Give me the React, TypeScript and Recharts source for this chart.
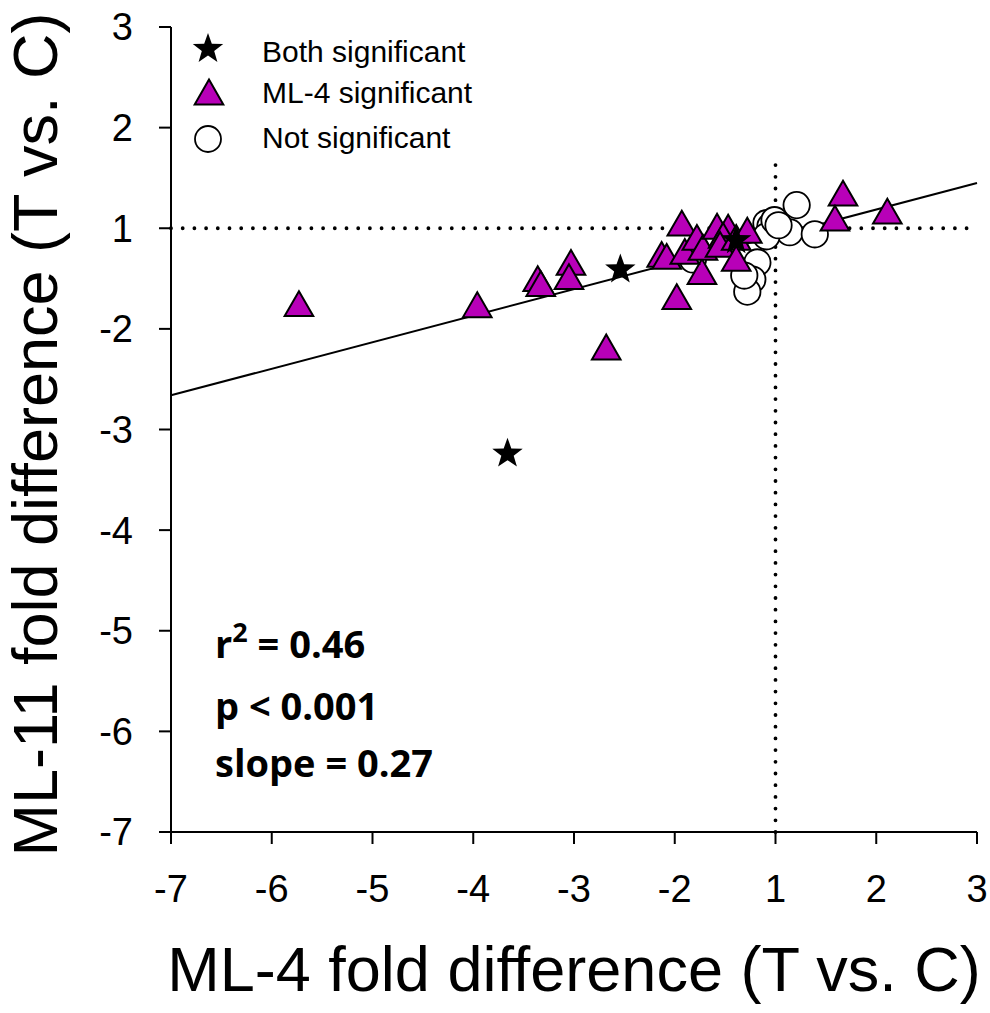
import { Label, Legend, ReferenceLine, Scatter, ScatterChart, XAxis, YAxis } from "recharts";

// fold differences (T vs. C); -1..1 is skipped on both axes
const bothX = [-3.66, -2.54, -1.39];
const bothY = [-3.23, -1.4, -1.11];

const ml4X = [
  -5.73, -3.96, -3.36, -3.33, -3.03, -3.05, -2.68, -2.13, -2.08, -1.93, -1.98, -1.73, -1.9,
  -1.78, -1.72, -1.58, -1.47, -1.52, -1.55, -1.39, -1.28, -1.39, 1.67, 1.59, 2.11,
];
const ml4Y = [
  -1.75, -1.76, -1.5, -1.55, -1.34, -1.48, -2.18, -1.26, -1.28, 1.05, -1.68, -1.43, -1.23,
  -1.09, -1.19, 1.02, 1.01, -1.07, -1.16, -1.09, -1.02, -1.3, 1.35, 1.1, 1.17,
];

const notX = [1.21, -1.09, -1.05, 1.14, 1.39, -1.18, -1.23, -1.28, -1.82, -1.09, -1.31, -1.01, 1.03];
const notY = [1.23, 1.05, 1.02, -1.04, -1.06, -1.34, -1.51, -1.63, -1.31, -1.08, -1.47, 1.08, 1.03];

// regression line end points
const fitX = [-7, 3];
const fitY = [-2.66, 1.45];

const axisTicks = [-7, -6, -5, -4, -3, -2, 1, 2, 3];
const vLineTop = 1.68;

const PURPLE = "#B800B8";
const AXIS_FONT = "'Liberation Sans', Arial, sans-serif";
const NOTE_FONT = "'Open Sans', 'Noto Sans', sans-serif";

// fold difference <-> continuous axis value
const toAxis = (f: number) => (f > 0 ? f - 1 : f + 1);
const toFold = (v: number) => (v >= 0 ? v + 1 : v - 1);

const pts = (xs: number[], ys: number[]) => xs.map((x, i) => ({ x: toAxis(x), y: toAxis(ys[i]) }));

const starPoints = (cx: number, cy: number, R: number, r: number) =>
  Array.from({ length: 10 }, (_, i) => {
    const a = -Math.PI / 2 + (i * Math.PI) / 5;
    const rad = i % 2 === 0 ? R : r;
    return `${cx + rad * Math.cos(a)},${cy + rad * Math.sin(a)}`;
  }).join(" ");

const triPoints = (cx: number, cy: number) =>
  `${cx},${cy - 12.4} ${cx - 14.3},${cy + 12.4} ${cx + 14.3},${cy + 12.4}`;

const StarShape = ({ cx, cy }: any) => <polygon points={starPoints(cx, cy + 1, 16, 6.5)} fill="#000" />;

const TriShape = ({ cx, cy }: any) => (
  <polygon points={triPoints(cx, cy)} fill={PURPLE} stroke="#000" strokeWidth={2} />
);

const CircleShape = ({ cx, cy }: any) => (
  <circle cx={cx} cy={cy} r={13.2} fill="#fff" stroke="#000" strokeWidth={1.8} />
);

const LegendBox = () => (
  <svg width={330} height={140} style={{ display: "block" }}>
    <g fontFamily={AXIS_FONT} fontSize={30} fill="#000">
      <polygon points={starPoints(28, 30, 16, 6.5)} fill="#000" />
      <text x={82} y={43}>Both significant</text>
      <polygon points={triPoints(29, 73)} fill={PURPLE} stroke="#000" strokeWidth={2} />
      <text x={82} y={84}>ML-4 significant</text>
      <circle cx={28} cy={120} r={13} fill="#fff" stroke="#000" strokeWidth={1.8} />
      <text x={82} y={129}>Not significant</text>
    </g>
  </svg>
);

const XTitle = ({ viewBox }: any) => (
  <text
    x={viewBox.x + viewBox.width / 2}
    y={991}
    textAnchor="middle"
    fontFamily={AXIS_FONT}
    fontSize={63}
    fill="#000"
  >
    ML-4 fold difference (T vs. C)
  </text>
);

const YTitle = ({ viewBox }: any) => {
  const cy = viewBox.y + viewBox.height / 2 + 5;
  return (
    <text
      x={57}
      y={cy}
      transform={`rotate(-90, 57, ${cy})`}
      textAnchor="middle"
      fontFamily={AXIS_FONT}
      fontSize={63}
      fill="#000"
    >
      ML-11 fold difference (T vs. C)
    </text>
  );
};

export default function App() {
  const tickVals = axisTicks.map(toAxis);
  const axisLine = { stroke: "#000", strokeWidth: 2 };
  const tick = { fill: "#000", fontSize: 38, fontFamily: AXIS_FONT };

  return (
    <div style={{ position: "absolute", left: 0, top: 0, width: 990, height: 1013, background: "#fff" }}>
      <ScatterChart width={990} height={1013} margin={{ top: 27, right: 13, bottom: 0, left: 0 }}>
        <XAxis
          type="number"
          dataKey="x"
          domain={[-6, 2]}
          ticks={tickVals}
          interval={0}
          tickFormatter={toFold}
          height={181}
          tickSize={12}
          tickMargin={31}
          axisLine={axisLine}
          tickLine={axisLine}
          tick={tick}
        >
          <Label content={XTitle} />
        </XAxis>
        <YAxis
          type="number"
          dataKey="y"
          domain={[-6, 2]}
          ticks={tickVals}
          interval={0}
          tickFormatter={toFold}
          width={171}
          tickSize={12}
          tickMargin={26}
          axisLine={axisLine}
          tickLine={axisLine}
          tick={tick}
        >
          <Label content={YTitle} />
        </YAxis>
        <Legend
          layout="horizontal"
          verticalAlign="middle"
          align="center"
          content={LegendBox}
          wrapperStyle={{ position: "absolute", left: 180, top: 19, width: 330, height: 140 }}
        />
        <Scatter name="Not significant" data={pts(notX, notY)} shape={CircleShape} isAnimationActive={false} />
        <Scatter name="ML-4 significant" data={pts(ml4X, ml4Y)} shape={TriShape} isAnimationActive={false} />
        <Scatter name="Both significant" data={pts(bothX, bothY)} shape={StarShape} isAnimationActive={false} />
        <ReferenceLine
          y={0}
          stroke="#000"
          strokeWidth={3.8}
          strokeDasharray="0 11.7"
          strokeLinecap="round"
        />
        <ReferenceLine
          segment={[
            { x: 0, y: -6 },
            { x: 0, y: toAxis(vLineTop) },
          ]}
          stroke="#000"
          strokeWidth={3.8}
          strokeDasharray="0 11.7"
          strokeLinecap="round"
        />
        <ReferenceLine
          segment={[
            { x: toAxis(fitX[0]), y: toAxis(fitY[0]) },
            { x: toAxis(fitX[1]), y: toAxis(fitY[1]) },
          ]}
          stroke="#000"
          strokeWidth={2}
        />
        <g fontFamily={NOTE_FONT} fontWeight={700} fontSize={38} fill="#000">
          <text x={215} y={658}>
            r<tspan fontSize={27} dy={-16}>2</tspan>
            <tspan dy={16}> = 0.46</tspan>
          </text>
          <text x={215} y={720}>p &lt; 0.001</text>
          <text x={215} y={777}>slope = 0.27</text>
        </g>
      </ScatterChart>
    </div>
  );
}
